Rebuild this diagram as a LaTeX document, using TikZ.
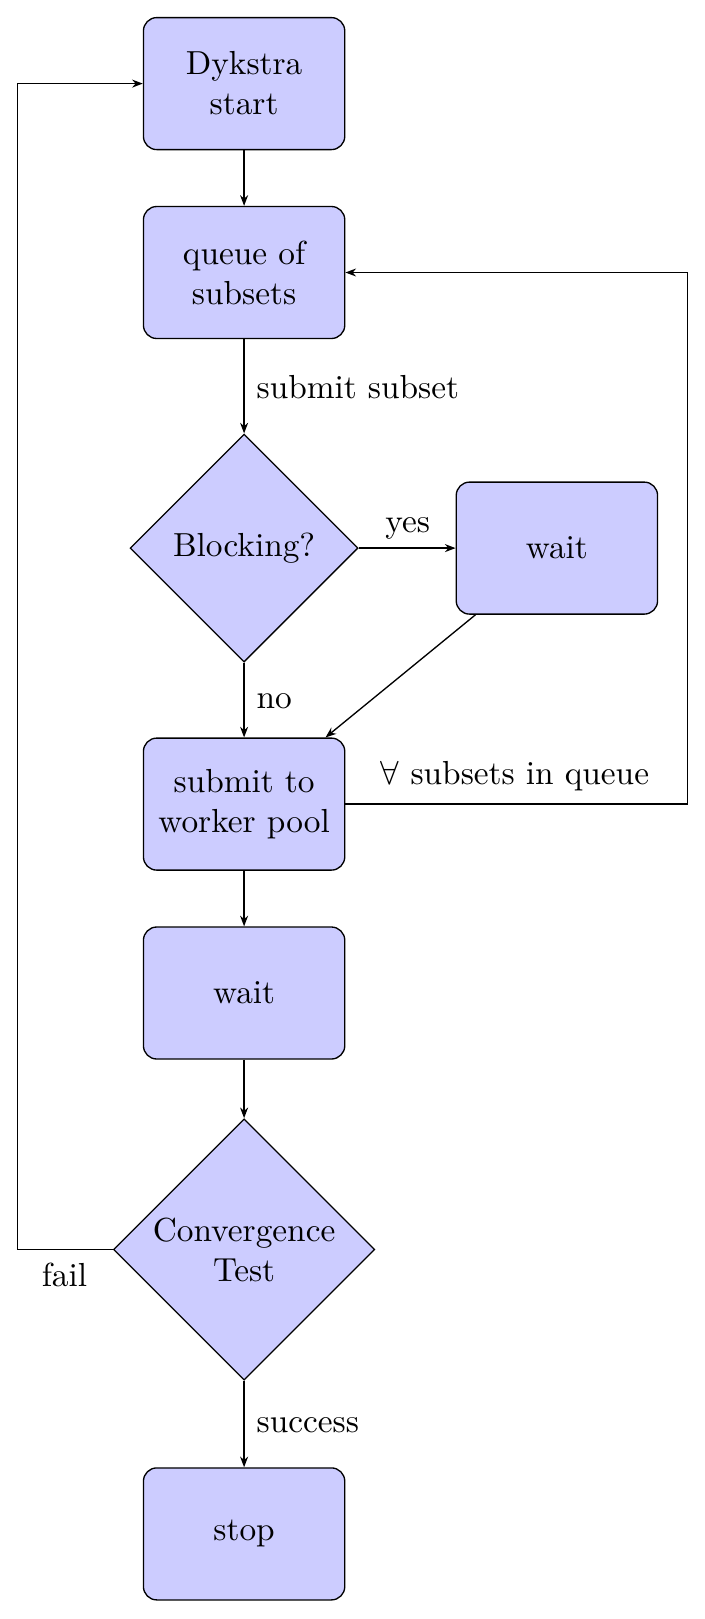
\documentclass[tikz,border=0pt]{standalone}
\usetikzlibrary{shapes.geometric,arrows.meta}
\begin{document}
\begin{tikzpicture}[x=0.3pt,y=-0.3pt,
  block/.style={draw,fill=blue!20,rounded corners=4pt,minimum width=60.4pt,minimum height=39.6pt,align=center,inner sep=0pt},
  decision/.style={draw,fill=blue!20,diamond,aspect=1,inner sep=0pt,align=center},
  conn/.style={draw,-{Stealth[length=3.2pt,width=2.4pt]}},
  lbl/.style={inner sep=0pt}]
\useasboundingbox (0,0) rectangle (705,1619);
\node[block] (start) at (244.1,83.6) {Dykstra\\start};
\node[block] (queue) at (244.1,272.5) {queue of\\subsets};
\node[decision,minimum width=68.4pt,minimum height=68.4pt] (block) at (244.1,548.1) {Blocking?};
\node[block] (wait1) at (556.9,548.1) {wait};
\node[block] (submit) at (244.1,804.1) {submit to\\worker pool};
\node[block] (wait2) at (244.1,993) {wait};
\node[decision,minimum width=78.4pt,minimum height=78.4pt] (conv) at (244.1,1249.5) {Convergence\\Test};
\node[block] (stop) at (244.1,1533.9) {stop};
\coordinate (lt) at (17.5,83.6);
\coordinate (lb) at (17.5,1249.5);
\coordinate (rt) at (687.5,272.5);
\coordinate (rb) at (687.5,804.1);
\draw[conn] (start) -- (queue);
\draw[conn] (queue) -- (block);
\draw[conn] (block) -- (wait1);
\draw[conn] (block) -- (submit);
\draw[conn] (wait1) -- (submit);
\draw[conn] (submit) -- (wait2);
\draw[conn] (wait2) -- (conv);
\draw[conn] (conv) -- (stop);
\draw[conn] (conv.west) -- (lb) -- (lt) -- (start.west);
\draw[conn] (submit.east) -- (rb) -- (rt) -- (queue.east);
\node[lbl,anchor=west] (l1) at (256,387) {submit subset};
\node[lbl] (l2) at (407.7,528) {yes};
\node[lbl,anchor=west] (l3) at (256,701) {no};
\node[lbl] (l4) at (515,776) {$\forall$ subsets in queue};
\node[lbl] (l5) at (64.5,1275) {fail};
\node[lbl,anchor=west] (l6) at (256,1425) {success};
\end{tikzpicture}
\end{document}
